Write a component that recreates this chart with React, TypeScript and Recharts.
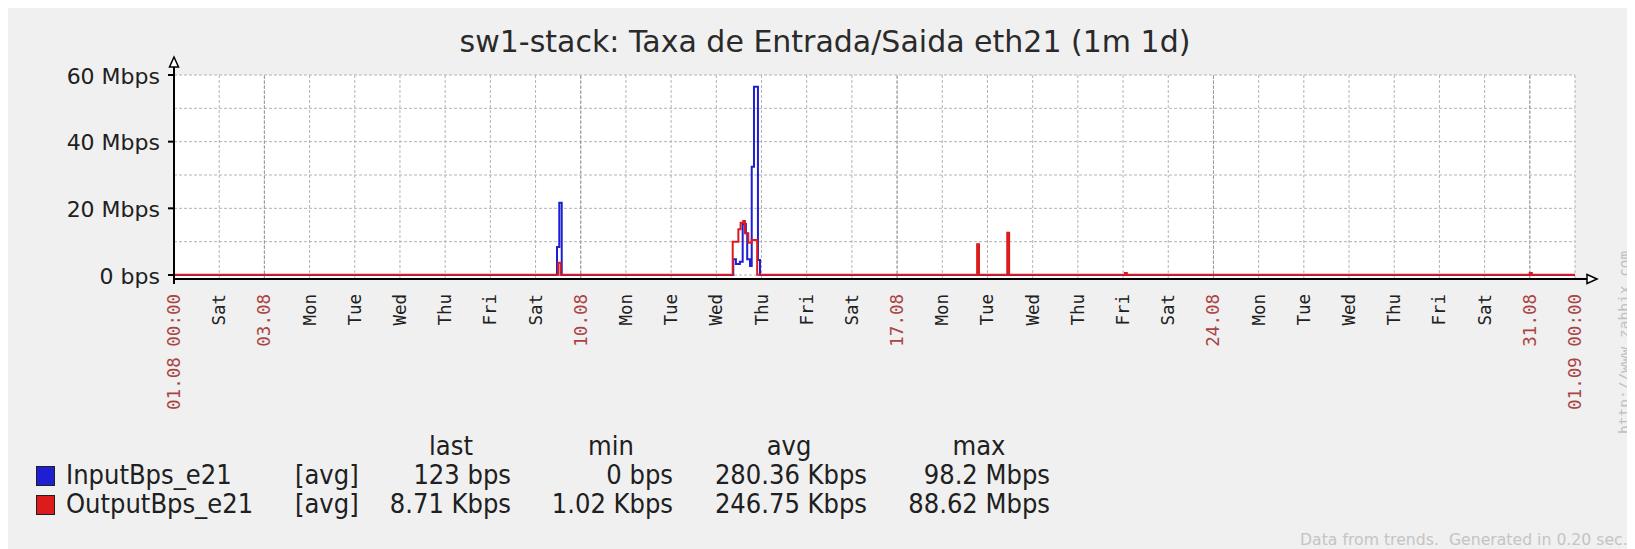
import { CartesianGrid, Line, LineChart, ReferenceLine, XAxis, YAxis } from "recharts";

// chart panel size (page is 1635x549, panel starts at the body margin)
const W = 1627;
const H = 543;

// x axis: one tick per day, hours since 01.08 00:00
const xTickLabels = [
  "01.08 00:00", "Sat", "03.08", "Mon", "Tue", "Wed", "Thu", "Fri", "Sat",
  "10.08", "Mon", "Tue", "Wed", "Thu", "Fri", "Sat",
  "17.08", "Mon", "Tue", "Wed", "Thu", "Fri", "Sat",
  "24.08", "Mon", "Tue", "Wed", "Thu", "Fri", "Sat",
  "31.08", "01.09 00:00",
];
const xTicks = xTickLabels.map((_, i) => i * 24);
const sundayHours = [48, 216, 384, 552, 720];

// y axis in Mbps
const yTicks = [0, 10, 20, 30, 40, 50, 60];
const yTickLabels = ["0 bps", "", "20 Mbps", "", "40 Mbps", "", "60 Mbps"];

// series (hour, Mbps)
const inputHours = [0, 203.4, 204.6, 205.9, 297, 298.4, 300.5, 302, 303.7, 304.4, 305.9, 306.8, 308, 310.1, 311.2, 720, 721, 744];
const inputMbps = [0.01, 8.4, 21.7, 0.01, 4.7, 3.3, 4.0, 15.3, 12.5, 4.7, 2.7, 32.5, 56.5, 4.5, 0.01, 0.4, 0.01, 0.01];
const outputHours = [0, 204.0, 205.3, 296.7, 299.7, 300.9, 302.3, 303.2, 305, 306.8, 309.7, 426.5, 427.5, 442.5, 443.5, 505, 506, 720, 721, 744];
const outputMbps = [0.05, 3.7, 0.05, 10.0, 13.7, 15.7, 16.2, 12.5, 9.7, 10.5, 0.05, 9.2, 0.05, 12.7, 0.05, 0.6, 0.05, 0.6, 0.05, 0.05];

// legend table
const legendNames = ["InputBps_e21", "OutputBps_e21"];
const legendColors = ["#1e1ed2", "#dc1c1c"];
const lastVals = ["123 bps", "8.71 Kbps"];
const minVals = ["0 bps", "1.02 Kbps"];
const avgVals = ["280.36 Kbps", "246.75 Kbps"];
const maxVals = ["98.2 Mbps", "88.62 Mbps"];

const inputData = inputHours.map((h, i) => ({ h, v: inputMbps[i] }));
const outputData = outputHours.map((h, i) => ({ h, v: outputMbps[i] }));

const TEXT = "#202020";
const SANS = "'DejaVu Sans', sans-serif";
const MONO = "'DejaVu Sans Mono', monospace";
const COND = "'DejaVu Sans Condensed', 'DejaVu Sans', sans-serif";

const DayTick = (props: any) => {
  const { x, y, payload } = props;
  const idx = xTicks.indexOf(payload.value);
  const label = xTickLabels[idx] ?? "";
  const major = label.includes(".");
  return (
    <text
      transform={`translate(${x},${y + 15}) rotate(-90)`}
      textAnchor="end"
      dominantBaseline="central"
      fontFamily={MONO}
      fontSize={17.5}
      fill={major ? "#aa4444" : TEXT}
    >
      {label}
    </text>
  );
};

const MbpsTick = (props: any) => {
  const { x, y, payload } = props;
  const label = yTickLabels[yTicks.indexOf(payload.value)];
  if (!label) return null;
  return (
    <g>
      <line x1={x + 8} x2={x + 14} y1={y} y2={y} stroke="#000" strokeWidth={2} />
      <text x={x} y={y + 1} textAnchor="end" dominantBaseline="central" fontFamily={SANS} fontSize={22} fill={TEXT}>
        {label}
      </text>
    </g>
  );
};

export default function App() {
  const headerY = 449;
  const rowY = [478, 507];
  return (
    <div style={{ position: "relative", width: W, height: H, background: "#f0f0f0", marginTop: -2 }}>
      <LineChart
        width={W}
        height={H}
        margin={{ top: 69, right: 60, left: 66, bottom: 150 }}
      >
        <CartesianGrid fill="#ffffff" stroke="#b4b4b4" strokeDasharray="3 2" />
        <XAxis
          dataKey="h"
          type="number"
          domain={[0, 744]}
          ticks={xTicks}
          interval={0}
          height={120}
          tickLine={false}
          tickSize={0}
          tickMargin={0}
          axisLine={{ stroke: "#000", strokeWidth: 2 }}
          tick={<DayTick />}
        />
        <YAxis
          type="number"
          domain={[-1.2, 60]}
          ticks={yTicks}
          interval={0}
          width={100}
          tickLine={false}
          tickSize={6}
          tickMargin={8}
          axisLine={{ stroke: "#000", strokeWidth: 2 }}
          tick={<MbpsTick />}
        />
        {sundayHours.map((h) => (
          <ReferenceLine key={h} x={h} stroke="#999999" strokeDasharray="3 2" />
        ))}
        <Line
          data={inputData}
          dataKey="v"
          type="stepAfter"
          stroke={legendColors[0]}
          strokeWidth={2}
          dot={false}
          isAnimationActive={false}
        />
        <Line
          data={outputData}
          dataKey="v"
          type="stepAfter"
          stroke={legendColors[1]}
          strokeWidth={2}
          dot={false}
          isAnimationActive={false}
        />
      </LineChart>

      <svg
        width={W}
        height={H}
        style={{ position: "absolute", left: 0, top: 0, pointerEvents: "none", overflow: "visible" }}
      >
        <text x={817} y={46} textAnchor="middle" fontFamily={SANS} fontSize={30} fill="#2a2a2a">
          sw1-stack: Taxa de Entrada/Saida eth21 (1m 1d)
        </text>

        {/* axis arrows */}
        <line x1={166} x2={166} y1={53} y2={70} stroke="#000" strokeWidth={2} />
        <line x1={166} x2={166} y1={272} y2={278} stroke="#000" strokeWidth={2} />
        <polygon points="166,51 161.5,61 170.5,61" fill="#fff" stroke="#000" strokeWidth={1.5} />
        <line x1={1566} x2={1585} y1={273} y2={273} stroke="#000" strokeWidth={2} />
        <polygon points="1589,273 1579,268.5 1579,277.5" fill="#fff" stroke="#000" strokeWidth={1.5} />

        <text
          transform="translate(1616,428) rotate(-90)"
          textAnchor="start"
          dominantBaseline="central"
          fontFamily={MONO}
          fontSize={14.5}
          fill="#c0c0c0"
        >
          http://www.zabbix.com
        </text>

        {/* legend */}
        <g fontFamily={COND} fontSize={27} fill={TEXT}>
          <text x={443} y={headerY} textAnchor="middle">last</text>
          <text x={603} y={headerY} textAnchor="middle">min</text>
          <text x={781} y={headerY} textAnchor="middle">avg</text>
          <text x={971} y={headerY} textAnchor="middle">max</text>
          {legendNames.map((name, i) => (
            <g key={name}>
              <rect x={28.5} y={rowY[i] - 17.5} width={18} height={19} fill={legendColors[i]} stroke="#202020" strokeWidth={1} />
              <text x={58} y={rowY[i]}>{name}</text>
              <text x={287} y={rowY[i]}>[avg]</text>
              <text x={503} y={rowY[i]} textAnchor="end">{lastVals[i]}</text>
              <text x={665} y={rowY[i]} textAnchor="end">{minVals[i]}</text>
              <text x={859} y={rowY[i]} textAnchor="end">{avgVals[i]}</text>
              <text x={1042} y={rowY[i]} textAnchor="end">{maxVals[i]}</text>
            </g>
          ))}
        </g>

        <text x={1292} y={539} fontFamily={SANS} fontSize={15.7} fill="#c4c4c4" style={{ whiteSpace: "pre" }}>
          {"Data from trends.  Generated in 0.20 sec."}
        </text>
      </svg>
    </div>
  );
}
